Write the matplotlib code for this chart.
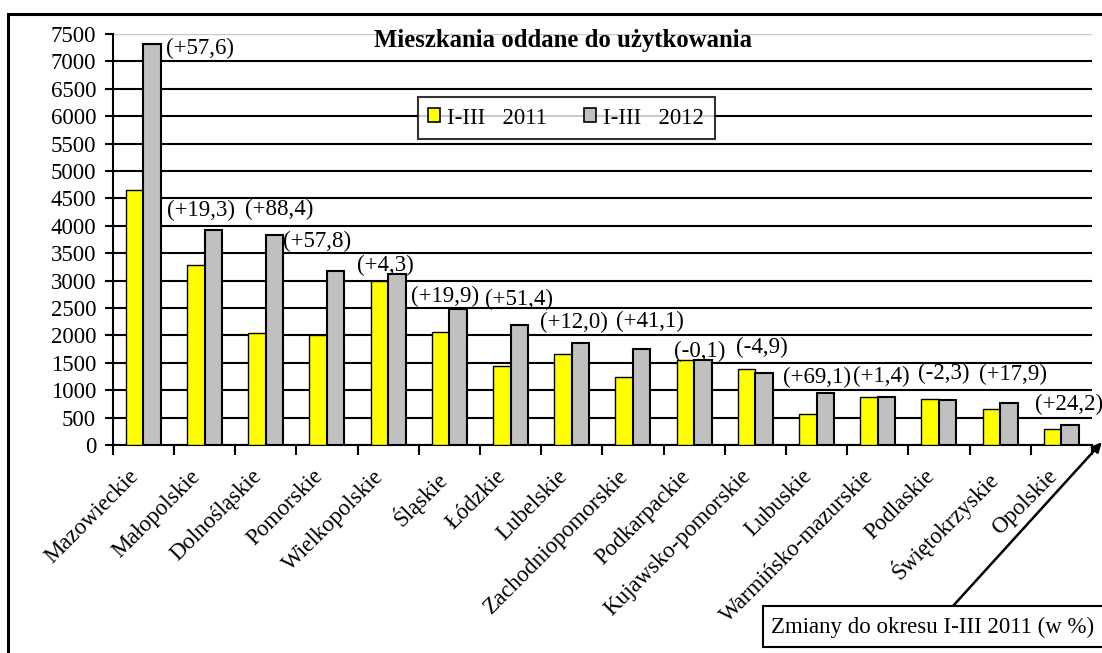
import matplotlib.pyplot as plt
import numpy as np
from matplotlib.patches import Patch, Rectangle
from matplotlib.transforms import ScaledTranslation

plt.rcParams["font.family"] = ["Liberation Serif", "DejaVu Serif"]

regions = ["Mazowieckie", "Małopolskie", "Dolnośląskie", "Pomorskie",
           "Wielkopolskie", "Śląskie", "Łódzkie", "Lubelskie",
           "Zachodniopomorskie", "Podkarpackie", "Kujawsko-pomorskie",
           "Lubuskie", "Warmińsko-mazurskie", "Podlaskie", "Świętokrzyskie",
           "Opolskie"]
v2011 = [4645, 3285, 2040, 2015, 2985, 2065, 1445, 1665,
         1245, 1545, 1385, 557, 870, 843, 650, 295]
v2012 = [7320, 3920, 3840, 3180, 3113, 2476, 2188, 1865,
         1757, 1543, 1317, 942, 882, 824, 766, 366]
changes = ["(+57,6)", "(+19,3)", "(+88,4)", "(+57,8)", "(+4,3)", "(+19,9)",
           "(+51,4)", "(+12,0)", "(+41,1)", "(-0,1)", "(-4,9)", "(+69,1)",
           "(+1,4)", "(-2,3)", "(+17,9)", "(+24,2)"]

# przesunięcia etykiet (piksele) względem środka kategorii / szczytu słupka
lab_dx = [57, -4, 13, -10, -3, -4, 8, 2, 17, 6, 7, 0, 4, 5, 13, 8]
lab_dy = [-5, 20, 25, 29, 9, 13, 26, 20, 27, 9, 22, 16, 20, 25, 29, 20]

YELLOW = "#FFFF00"
GRAY = "#C0C0C0"
FS = 16.5

W, H = 1102, 653
fig = plt.figure(figsize=(W / 100, H / 100), dpi=100)
ax = fig.add_axes([112.7 / W, (H - 445) / H, (1092 - 112.7) / W, (445 - 34) / H])

x = np.arange(len(regions))
bw = 0.286
ax.bar(x - bw / 2, v2011, bw, color=YELLOW, edgecolor="black", linewidth=1.0,
       label="I-III   2011", zorder=3)
ax.bar(x + bw / 2, v2012, bw, color=GRAY, edgecolor="black", linewidth=1.5,
       label="I-III   2012", zorder=3)

ax.set_xlim(-0.5, len(regions) - 0.5)
ax.set_ylim(0, 7500)
ax.set_yticks(np.arange(0, 7501, 500))
ax.yaxis.grid(True, color="black", linewidth=1.5)
ax.get_ygridlines()[-1].set_color("#c8c8c8")
ax.get_ygridlines()[-1].set_linewidth(1.0)
ax.set_axisbelow(True)

for s in ["top", "right"]:
    ax.spines[s].set_visible(False)
for s in ["left", "bottom"]:
    ax.spines[s].set_linewidth(1.5)

ax.tick_params(axis="y", length=6, width=1.5, pad=6, labelsize=FS)
ax.set_xticks(np.arange(-0.5, len(regions), 1))
ax.set_xticklabels([])
ax.tick_params(axis="x", which="major", length=7, width=1.5, direction="out")
ax.set_xticks(x, minor=True)
ax.set_xticklabels(regions, minor=True, rotation=45, ha="right",
                   rotation_mode="anchor", fontsize=FS)
ax.tick_params(axis="x", which="minor", length=0, pad=15)
shift = ScaledTranslation(-15 / 100, 0, fig.dpi_scale_trans)
for lab in ax.get_xticklabels(minor=True):
    lab.set_transform(lab.get_transform() + shift)

for i, t in enumerate(changes):
    top = max(v2011[i], v2012[i])
    ax.annotate(t, xy=(i, top), xytext=(lab_dx[i], lab_dy[i]),
                textcoords="offset pixels", ha="center", va="center",
                fontsize=FS, annotation_clip=False, zorder=5)

fig.text(563 / W, (H - 41) / H, "Mieszkania oddane do użytkowania",
         ha="center", va="center", fontsize=17.8, fontweight="bold")

handles = [Patch(facecolor=YELLOW, edgecolor="black", linewidth=1.2),
           Patch(facecolor=GRAY, edgecolor="black", linewidth=1.2)]
leg = fig.legend(handles, ["I-III   2011", "I-III   2012"], ncol=2,
                 loc="center", bbox_to_anchor=(566 / W, (H - 118) / H),
                 fontsize=FS, frameon=True, fancybox=False, shadow=False,
                 handlelength=0.55, handleheight=0.55, handletextpad=0.3,
                 columnspacing=1.6, borderpad=0.45)
leg.get_frame().set_edgecolor("black")
leg.get_frame().set_linewidth(1.5)

# ramka całego wykresu
fig.patches.append(Rectangle((8, -20), W + 50, H - 14 + 20, transform=None,
                             fill=False, edgecolor="black", linewidth=2.2))

# ramka opisu (wychodzi poza prawą krawędź, jak w oryginale)
fig.patches.append(Rectangle((763, H - 647), 400, 41, transform=None,
                             facecolor="white", edgecolor="black",
                             linewidth=1.5, zorder=4))
fig.text(771 / W, (H - 627) / H, "Zmiany do okresu I-III 2011 (w %)",
         ha="left", va="center", fontsize=FS, zorder=5)
ax.annotate("", xy=(len(regions) - 0.5 + 0.16, 50), xycoords="data",
            xytext=(953, H - 606), textcoords="figure pixels",
            arrowprops=dict(arrowstyle="-|>", color="black", lw=1.8,
                            mutation_scale=14, shrinkA=0, shrinkB=0),
            annotation_clip=False)

fig.savefig("out.png", dpi=100, facecolor="white")
